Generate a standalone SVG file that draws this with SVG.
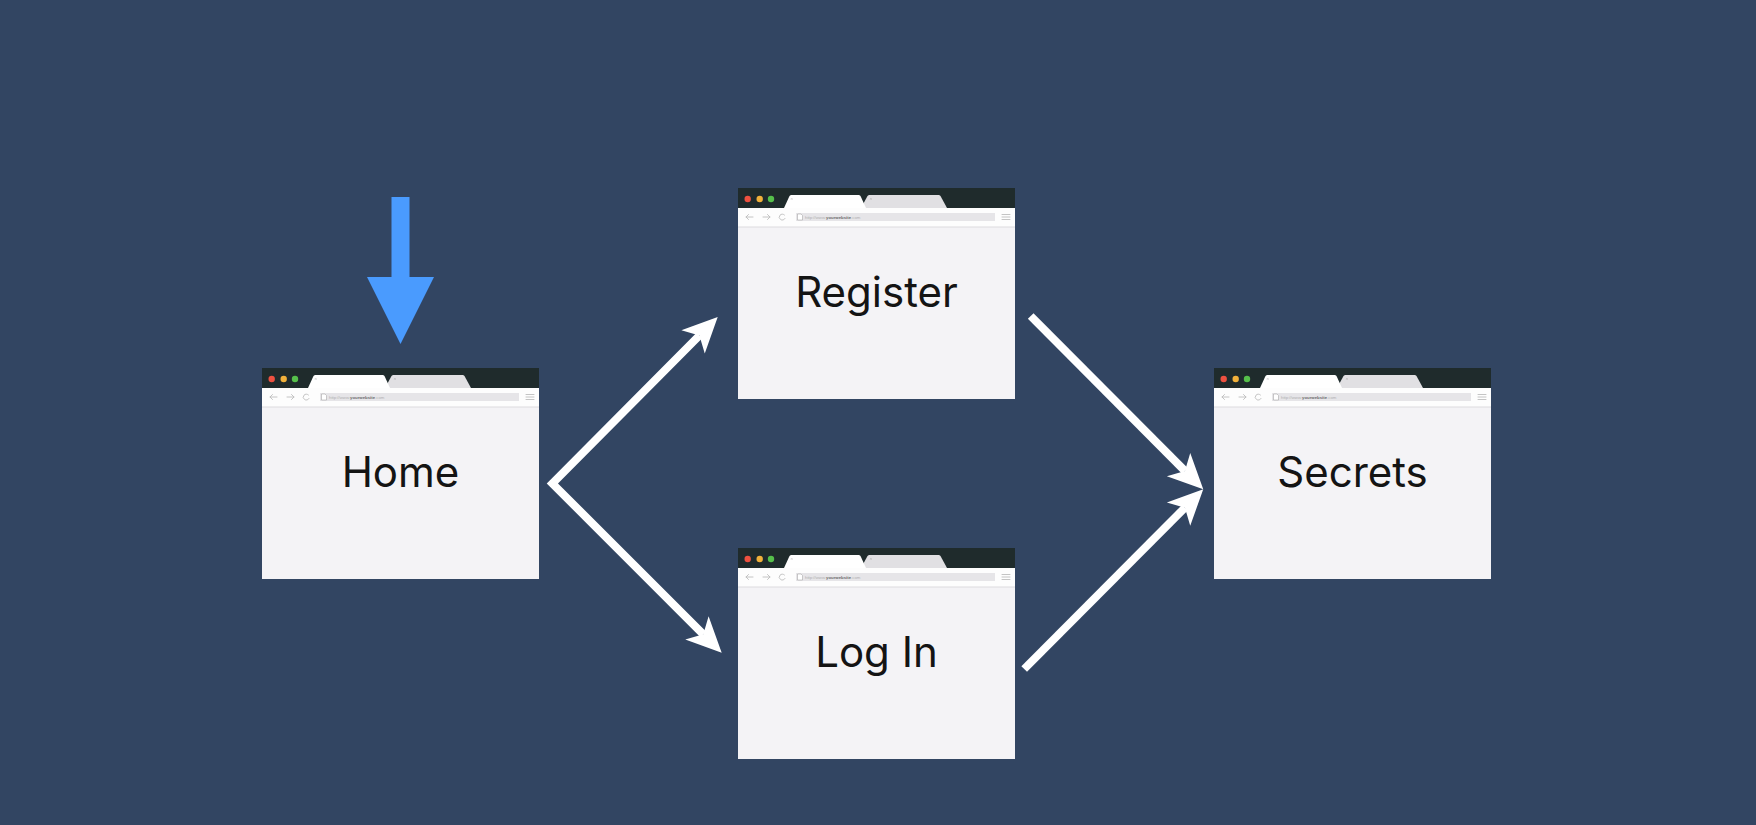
<svg xmlns="http://www.w3.org/2000/svg" xmlns:xlink="http://www.w3.org/1999/xlink" width="1756" height="825" viewBox="0 0 1756 825">
  <style>
    .label { font-family: Inter, Lato, "Liberation Sans", sans-serif; font-size: 42px; font-weight: 400; fill: #141414; text-anchor: middle; }
    .url { font-family: "Liberation Sans", Arial, sans-serif; font-size: 4.3px; fill: #b0b0b0; }
    .urlb { fill: #6a6a6a; font-weight: bold; }
    .conn { fill: none; stroke: #ffffff; stroke-width: 8; stroke-linejoin: miter; stroke-miterlimit: 10; stroke-linecap: butt; }
    .icon { fill: none; stroke: #bdbdbd; stroke-width: 0.9; stroke-linecap: round; }
  </style>
  <defs>
    <marker id="head" markerUnits="userSpaceOnUse" markerWidth="40" markerHeight="40" refX="10" refY="17" orient="auto-start-reverse" overflow="visible">
      <path d="M36,17 L1,0.5 L10,17 L1,33.5 Z" fill="#ffffff"/>
    </marker>
    <g id="chrome">
      <rect x="0" y="0" width="277" height="211" fill="#f4f3f6"/>
      <rect x="0" y="0" width="277" height="20" fill="#1f2b2c"/>
      <circle cx="9.7" cy="11" r="3.2" fill="#ee5140"/>
      <circle cx="21.7" cy="11" r="3.2" fill="#f1b13b"/>
      <circle cx="33" cy="11" r="3.2" fill="#56c04b"/>
      <path d="M123,20 L129.5,8 Q130.2,7 131.5,7 L200.5,7 Q201.8,7 202.5,8 L209,20 Z" fill="#e1e0e3"/>
      <path d="M46,20 L51.5,8 Q52.2,7 53.5,7 L120.5,7 Q121.8,7 122.5,8 L128,20 Z" fill="#ffffff"/>
      <path d="M52.8,10 L54.6,11.8 M54.6,10 L52.8,11.8" stroke="#c4c4c4" stroke-width="0.6"/>
      <path d="M132,10 L133.8,11.8 M133.8,10 L132,11.8" stroke="#b8b8b8" stroke-width="0.6"/>
      <rect x="0" y="20" width="277" height="19" fill="#fdfdfd"/>
      <line x1="0" y1="39" x2="277" y2="39" stroke="#dcdbde" stroke-width="1"/>
      <path class="icon" d="M15,29 L8,29 M10.5,26.5 L8,29 L10.5,31.5"/>
      <path class="icon" d="M25,29 L32,29 M29.5,26.5 L32,29 L29.5,31.5"/>
      <path class="icon" d="M46.5,27 A3,3 0 1 0 47,30.5"/>
      <rect x="58" y="25" width="199" height="8" fill="#e6e5e8"/>
      <path d="M59.5,26 L63,26 L64.5,27.5 L64.5,32 L59.5,32 Z" fill="#ffffff" stroke="#9a9a9a" stroke-width="0.5"/>
      <text class="url" x="67" y="30.6">http://www.<tspan class="urlb">yourwebsite</tspan>.com</text>
      <path class="icon" d="M264,26.5 L272,26.5 M264,29 L272,29 M264,31.5 L272,31.5"/>
    </g>
  </defs>

  <rect x="0" y="0" width="1756" height="825" fill="#324562"/>

  <g id="start-arrow">
    <polygon points="391.5,197 409.5,197 409.5,277 434,277 400.5,344 367,277 391.5,277" fill="#4a9bfe"/>
  </g>

  <g id="node-home">
    <use xlink:href="#chrome" href="#chrome" x="262" y="368"/>
    <text class="label" x="400.5" y="487">Home</text>
  </g>
  <g id="node-register">
    <use xlink:href="#chrome" href="#chrome" x="738" y="188"/>
    <text class="label" x="876.5" y="307">Register</text>
  </g>
  <g id="node-login">
    <use xlink:href="#chrome" href="#chrome" x="738" y="548"/>
    <text class="label" x="876.5" y="667">Log In</text>
  </g>
  <g id="node-secrets">
    <use xlink:href="#chrome" href="#chrome" x="1214" y="368"/>
    <text class="label" x="1352.5" y="487">Secrets</text>
  </g>

  <g id="connectors">
    <path class="conn" d="M699.4,335.5 L552.4,483.5 L703.3,634.3" marker-start="url(#head)" marker-end="url(#head)"/>
    <path class="conn" d="M1030.7,316 L1184.9,470.9" marker-end="url(#head)"/>
    <path class="conn" d="M1024.2,669 L1184.9,507.7" marker-end="url(#head)"/>
  </g>
</svg>
